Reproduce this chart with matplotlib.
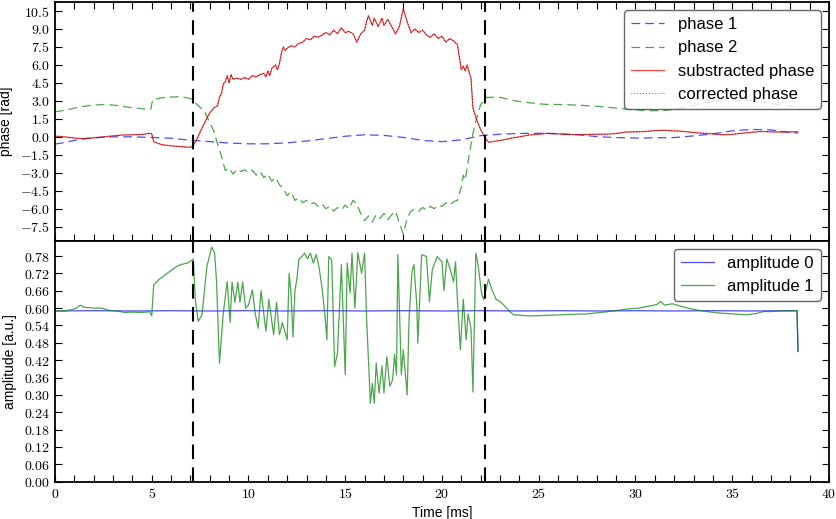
#!/usr/bin/env python3

import matplotlib
matplotlib.use('Agg')
import matplotlib.pyplot as plt
from matplotlib.ticker import MultipleLocator, FuncFormatter

# phase 1 (blue dashed)
t_ph1 = [0, 0.5, 1.0, 1.5, 2, 3, 4, 5, 6, 7, 8, 9, 10, 11, 12, 13, 14, 15, 16, 17, 18,
         19, 20, 21, 22, 23, 24, 25, 26, 27, 28, 29, 30, 31, 32, 33, 34, 35, 36, 37, 38, 38.4]
phase1 = [-0.6, -0.48, -0.3, -0.15, -0.08, 0.0, 0.0, -0.05, -0.12, -0.28, -0.4, -0.52, -0.58,
          -0.58, -0.5, -0.35, -0.15, 0.05, 0.17, 0.12, -0.05, -0.3, -0.4, -0.25, 0.1, 0.22,
          0.28, 0.3, 0.25, 0.18, 0.02, -0.06, -0.1, -0.08, -0.06, 0.08, 0.25, 0.5, 0.62, 0.58,
          0.35, 0.32]

# phase 2 (green dashed)
t_ph2 = [0, 0.5, 1.0, 1.5, 2.0, 2.5, 3.0, 3.5, 4.0, 4.5, 4.95, 5.05, 5.5, 6.0, 6.5, 7.0, 7.15,
         7.4, 7.7, 8.0, 8.2, 8.4, 8.6, 8.8, 9.0, 9.2, 9.4, 9.6, 9.8, 10.0, 10.2, 10.4, 10.6,
         10.8, 11.0, 11.2, 11.4, 11.6, 11.8, 12.0, 12.2, 12.4, 12.6, 12.8, 13.0, 13.2, 13.4,
         13.6, 13.8, 14.0, 14.2, 14.4, 14.6, 14.8, 15.0, 15.2, 15.4, 15.6, 15.8, 16.0, 16.2,
         16.4, 16.6, 16.8, 17.0, 17.2, 17.4, 17.6, 17.8, 18.0, 18.2, 18.4, 18.6, 18.8, 19.0,
         19.2, 19.4, 19.6, 19.8, 20.0, 20.2, 20.4, 20.6, 20.8, 21.0, 21.1, 21.2, 21.4, 21.6,
         21.8, 22.0, 22.3, 23.0, 23.5, 24.0, 24.5, 25.0, 25.5, 26.0, 26.5, 27.0, 27.5, 28.0,
         28.5, 29.0, 29.5, 30.0, 30.5, 31.0, 31.5, 32.0, 32.5, 33.0, 33.5, 34.0, 34.5, 35.0,
         35.5, 36.0, 36.5, 37.0, 37.5, 38.0, 38.4]
phase2 = [2.1, 2.2, 2.4, 2.55, 2.65, 2.7, 2.65, 2.55, 2.42, 2.35, 2.3, 3.1, 3.25, 3.32, 3.35,
          3.2, 3.0, 2.6, 2.2, 1.2, 0.5, -0.6, -1.6, -2.8, -2.6, -3.1, -2.7, -2.9, -2.75, -3.0,
          -2.8, -3.2, -2.9, -3.4, -3.1, -3.7, -3.4, -4.0, -4.3, -4.9, -4.6, -5.3, -5.1, -5.5,
          -5.3, -5.6, -5.5, -5.8, -5.6, -6.0, -5.8, -6.2, -5.9, -6.1, -5.7, -6.0, -5.3, -5.6,
          -6.4, -7.0, -6.6, -7.1, -6.5, -6.8, -6.4, -6.9, -6.5, -6.2, -7.2, -8.1, -6.8, -6.2,
          -6.0, -6.2, -5.9, -6.1, -5.8, -6.0, -5.7, -5.8, -5.5, -5.7, -5.4, -5.3, -4.2, -3.2,
          -3.6, -1.6, 0.3, 1.6, 2.7, 3.3, 3.3, 3.1, 2.95, 2.85, 2.75, 2.7, 2.7, 2.68, 2.65,
          2.6, 2.55, 2.48, 2.4, 2.32, 2.25, 2.2, 2.18, 2.2, 2.3, 2.45, 2.6, 2.8, 2.95, 3.05,
          3.08, 3.08, 3.02, 2.95, 2.8, 2.65, 2.55, 2.5]

# substracted phase (red) -- corrected phase lies on top of it
t_sub = [0, 0.5, 1.0, 1.5, 2.0, 2.5, 3.0, 3.5, 4.0, 4.5, 4.9, 5.0, 5.1, 5.5, 6.0, 6.5, 7.0,
         7.15, 7.3, 7.5, 7.8, 8.0, 8.2, 8.4, 8.5, 8.6, 8.7, 8.8, 8.9, 9.0, 9.1, 9.2, 9.4, 9.6,
         9.8, 10.0, 10.2, 10.4, 10.6, 10.8, 10.9, 11.0, 11.1, 11.2, 11.4, 11.5, 11.6, 11.7,
         11.8, 11.9, 12.0, 12.2, 12.4, 12.6, 12.8, 13.0, 13.2, 13.4, 13.6, 13.8, 14.0, 14.2,
         14.4, 14.6, 14.8, 15.0, 15.2, 15.4, 15.6, 15.8, 16.0, 16.1, 16.2, 16.4, 16.5, 16.7,
         16.9, 17.0, 17.2, 17.4, 17.6, 17.8, 18.0, 18.2, 18.4, 18.6, 18.8, 19.0, 19.2, 19.4,
         19.6, 19.8, 20.0, 20.2, 20.4, 20.6, 20.8, 21.0, 21.1, 21.2, 21.3, 21.4, 21.5, 21.6,
         21.8, 22.0, 22.2, 22.4, 22.8, 23.2, 23.6, 24.0, 24.5, 25.0, 25.5, 26.0, 26.5, 27.0,
         27.5, 28.0, 28.5, 29.0, 29.5, 30.0, 30.5, 31.0, 31.5, 32.0, 32.5, 33.0, 33.5, 34.0,
         34.5, 35.0, 35.5, 36.0, 36.5, 37.0, 37.5, 38.0, 38.4]
sub_phase = [0.06, 0.0, -0.1, -0.17, -0.08, 0.0, 0.08, 0.15, 0.17, 0.2, 0.3, 0.25, -0.4,
             -0.65, -0.75, -0.82, -0.88, -0.7, -0.3, 0.4, 1.4, 2.0, 2.4, 2.6, 3.3, 3.6, 4.4,
             4.6, 5.1, 4.5, 5.2, 4.8, 4.9, 4.8, 4.95, 4.8, 5.1, 5.0, 5.2, 5.3, 5.0, 5.5, 5.1,
             5.7, 6.0, 5.6, 6.1, 7.0, 7.5, 7.2, 7.4, 7.6, 7.5, 7.8, 7.9, 8.2, 8.1, 8.4, 8.3,
             8.5, 8.7, 8.5, 8.9, 8.6, 9.1, 8.7, 8.8, 8.6, 7.9, 8.6, 8.9, 9.6, 10.1, 9.3, 9.9,
             9.2, 9.9, 9.3, 9.8, 9.2, 8.6, 9.2, 10.7, 9.6, 8.7, 9.0, 8.7, 8.9, 8.5, 8.3, 8.6,
             8.2, 8.4, 7.9, 8.2, 8.0, 7.7, 5.6, 5.9, 5.5, 6.0, 5.4, 4.9, 2.4, 1.4, 0.6, 0.0,
             -0.45, -0.35, -0.25, -0.1, 0.0, 0.15, 0.22, 0.3, 0.25, 0.2, 0.18, 0.2, 0.22, 0.22,
             0.28, 0.4, 0.42, 0.45, 0.52, 0.55, 0.5, 0.45, 0.36, 0.3, 0.25, 0.17, 0.2, 0.3,
             0.38, 0.45, 0.42, 0.4, 0.42, 0.42]
corr_phase = sub_phase

# amplitude 0 (blue)
t_amp0 = [0, 2, 4, 6, 8, 10, 12, 14, 16, 18, 20, 22, 24, 26, 28, 30, 32, 34, 36, 38, 38.35, 38.4]
amp0 = [0.590, 0.591, 0.590, 0.591, 0.590, 0.591, 0.590, 0.591, 0.590, 0.591, 0.590, 0.591,
        0.590, 0.591, 0.590, 0.591, 0.590, 0.591, 0.590, 0.591, 0.590, 0.45]

# amplitude 1 (green)
t_amp1 = [0, 0.5, 0.9, 1.1, 1.3, 1.5, 2.0, 2.4, 2.8, 3.2, 3.6, 4.0, 4.5, 4.9, 5.0, 5.1, 5.4,
          5.7, 6.0, 6.3, 6.6, 6.9, 7.1, 7.15, 7.25, 7.4, 7.6, 7.85, 8.1, 8.25, 8.35, 8.5, 8.7,
          8.9, 9.05, 9.15, 9.3, 9.45, 9.56, 9.7, 9.85, 10.0, 10.2, 10.35, 10.5, 10.65, 10.9,
          11.05, 11.3, 11.45, 11.6, 11.75, 12.0, 12.1, 12.2, 12.3, 12.4, 12.5, 12.6, 12.75,
          12.9, 13.05, 13.2, 13.35, 13.5, 13.65, 13.8, 13.95, 14.05, 14.15, 14.3, 14.45, 14.6,
          14.8, 15.0, 15.1, 15.25, 15.35, 15.5, 15.65, 15.85, 16.0, 16.1, 16.3, 16.4, 16.5,
          16.6, 16.75, 16.9, 17.0, 17.15, 17.3, 17.45, 17.55, 17.65, 17.72, 17.9, 18.0, 18.2,
          18.3, 18.45, 18.55, 18.7, 18.75, 18.95, 19.2, 19.35, 19.5, 19.75, 20.0, 20.1, 20.25,
          20.4, 20.6, 20.7, 20.8, 20.95, 21.1, 21.25, 21.35, 21.5, 21.6, 21.75, 21.85, 22.05,
          22.15, 22.3, 22.4, 22.6, 22.8, 23.0, 23.2, 23.5, 23.7, 24.5, 25.5, 26.5, 27.5, 28.5,
          29.6, 30.2, 30.7, 31.1, 31.3, 31.5, 31.9, 32.3, 32.7, 33.2, 33.7, 34.3, 35.0, 35.8,
          36.3, 36.6, 37.0, 37.5, 38.1, 38.35, 38.4]
amp1 = [0.59, 0.59, 0.595, 0.60, 0.61, 0.603, 0.60, 0.60, 0.592, 0.59, 0.585, 0.586, 0.585,
        0.587, 0.573, 0.68, 0.70, 0.715, 0.73, 0.745, 0.752, 0.757, 0.767, 0.77, 0.63, 0.554,
        0.577, 0.744, 0.811, 0.79, 0.69, 0.41, 0.583, 0.692, 0.55, 0.69, 0.62, 0.69, 0.62,
        0.69, 0.60, 0.61, 0.663, 0.58, 0.53, 0.66, 0.52, 0.63, 0.508, 0.62, 0.508, 0.55, 0.49,
        0.72, 0.65, 0.50, 0.66, 0.70, 0.767, 0.778, 0.79, 0.77, 0.79, 0.756, 0.785, 0.74,
        0.67, 0.577, 0.49, 0.778, 0.767, 0.398, 0.444, 0.75, 0.37, 0.756, 0.652, 0.79, 0.60,
        0.792, 0.72, 0.79, 0.571, 0.271, 0.34, 0.271, 0.41, 0.306, 0.40, 0.306, 0.432, 0.33,
        0.352, 0.44, 0.37, 0.785, 0.37, 0.456, 0.30, 0.565, 0.727, 0.75, 0.61, 0.479, 0.785,
        0.778, 0.623, 0.733, 0.778, 0.76, 0.66, 0.77, 0.74, 0.69, 0.76, 0.627, 0.456, 0.63,
        0.49, 0.58, 0.53, 0.31, 0.79, 0.756, 0.65, 0.63, 0.67, 0.70, 0.66, 0.63, 0.623, 0.61,
        0.588, 0.577, 0.573, 0.575, 0.578, 0.58, 0.587, 0.597, 0.60, 0.607, 0.612, 0.623,
        0.61, 0.615, 0.607, 0.60, 0.593, 0.588, 0.583, 0.58, 0.577, 0.582, 0.588, 0.588,
        0.59, 0.59, 0.592, 0.45]

t_marks = [7.15, 22.2]

plt.rcParams['font.family'] = ['Liberation Sans', 'DejaVu Sans']
plt.rcParams['mathtext.fontset'] = 'cm'


def math_fmt(fmt):
    def f(v, pos):
        if abs(v) < 1e-9:
            v = 0.0
        return '$' + (fmt % v) + '$'
    return FuncFormatter(f)


fig = plt.figure(figsize=(8.37, 5.19), dpi=100)
ax1 = fig.add_axes([0.0657, 0.5366, 0.9247, 0.4595])
ax2 = fig.add_axes([0.0657, 0.0719, 0.9247, 0.4647], sharex=ax1)

ax1.plot(t_ph1, phase1, color='b', lw=0.9, alpha=0.7, dashes=(7, 4), label='phase 1')
ax1.plot(t_ph2, phase2, color='g', lw=0.9, alpha=0.7, dashes=(7, 4), label='phase 2')
ax1.plot(t_sub, sub_phase, color='r', lw=0.9, alpha=0.75, label='substracted phase')
ax1.plot(t_sub, corr_phase, color='k', lw=0.6, alpha=0.8, dashes=(1, 2.5),
         label='corrected phase')

ax2.plot(t_amp0, amp0, color='b', lw=0.9, alpha=0.7, label='amplitude 0')
ax2.plot(t_amp1, amp1, color='g', lw=0.9, alpha=0.7, label='amplitude 1')

for ax in (ax1, ax2):
    for tm in t_marks:
        ax.axvline(tm, color='k', lw=1.5, dashes=(7, 4))
    for s in ax.spines.values():
        s.set_linewidth(1.3)
    ax.tick_params(which='both', direction='in', length=5, width=0.8,
                   right=True, labelsize=10)
    ax.legend(loc='upper right', fontsize=12, fancybox=True, framealpha=0.8,
              edgecolor='0.25', borderaxespad=0.5)

ax1.set_xlim(0, 40)
ax1.set_ylim(-8.65, 11.25)
ax2.set_ylim(0, 0.8336)

ax1.xaxis.set_major_locator(MultipleLocator(5))
ax1.xaxis.set_minor_locator(MultipleLocator(1))
ax1.yaxis.set_major_locator(MultipleLocator(1.5))
ax2.yaxis.set_major_locator(MultipleLocator(0.06))

ax1.tick_params(which='both', top=True, labelbottom=False)
ax2.tick_params(which='both', top=False)

ax1.yaxis.set_major_formatter(math_fmt('%.1f'))
ax2.yaxis.set_major_formatter(math_fmt('%.2f'))
ax2.xaxis.set_major_formatter(math_fmt('%d'))

ax1.set_ylabel('phase [rad]', fontsize=10, labelpad=5)
ax2.set_ylabel('amplitude [a.u.]', fontsize=10, labelpad=5)
ax2.set_xlabel('Time [ms]', fontsize=10, labelpad=4)

fig.savefig('out.png', dpi=100)
